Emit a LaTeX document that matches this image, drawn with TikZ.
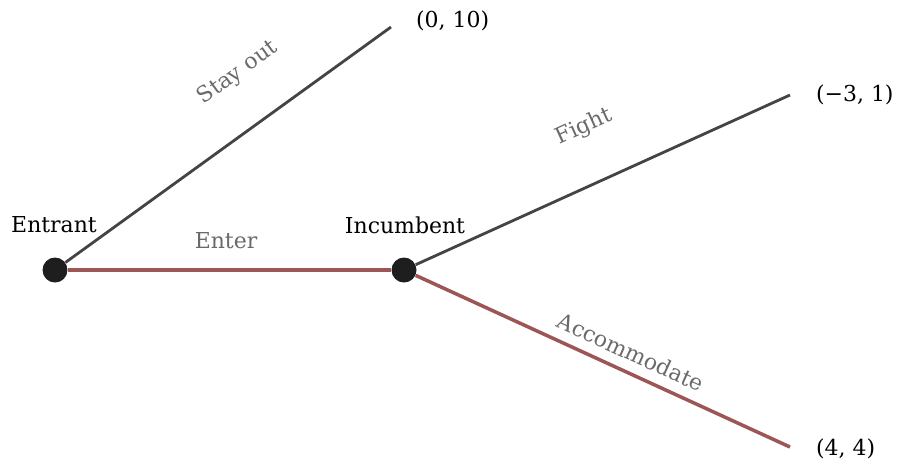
\documentclass[tikz,border=0pt]{standalone}
\usepackage{fontspec}
\setmainfont{DejaVu Serif}
\definecolor{branchgray}{HTML}{444444}
\definecolor{branchred}{HTML}{9C5656}
\definecolor{labelgray}{HTML}{6A6A6A}
\definecolor{dotblack}{HTML}{1E1E1E}

\begin{document}
\begin{tikzpicture}[x=0.02cm, y=-0.02cm,
    decision/.style={circle, fill=dotblack, minimum size=0.5cm, inner sep=0pt},
    player/.style={font=\fontsize{12.5}{15}\selectfont, text=black, inner sep=1pt},
    action/.style={font=\fontsize{12.5}{15}\selectfont, text=labelgray, inner sep=1pt},
    payoff/.style={font=\fontsize{12.5}{15}\selectfont, anchor=west, text=black, inner sep=1pt},
    plain branch/.style={draw=branchgray, line width=1.6pt},
    eq branch/.style={draw=branchred, line width=2pt}]
    \useasboundingbox (0,0) rectangle (898,461);

    % Decision nodes
    \node[decision] (entrant) at (55,270) {};
    \node[decision] (incumbent) at (404,270) {};
    \node[player] (lentrant) at (54,225) {Entrant};
    \node[player] (lincumbent) at (405,225) {Incumbent};

    % Terminal points and payoffs
    \coordinate (stayend) at (391,27);
    \coordinate (fightend) at (790,95);
    \coordinate (accend) at (790,447);
    \node[payoff] (pstay) at (414,21) {(0, 10)};
    \node[payoff] (pfight) at (814,95) {(−3, 1)};
    \node[payoff] (pacc) at (814,449) {(4, 4)};

    % Branches
    \draw[plain branch] (entrant) -- (stayend);
    \draw[eq branch] (entrant) -- (incumbent);
    \draw[plain branch] (incumbent) -- (fightend);
    \draw[eq branch] (incumbent) -- (accend);

    % Action labels
    \node[action, rotate=35.9] (lstay) at (238,73) {Stay out};
    \node[action] (lenter) at (226,241) {Enter};
    \node[action, rotate=24.4] (lfight) at (584,127) {Fight};
    \node[action, rotate=-24.6] (lacc) at (631,352) {Accommodate};
\end{tikzpicture}
\end{document}
